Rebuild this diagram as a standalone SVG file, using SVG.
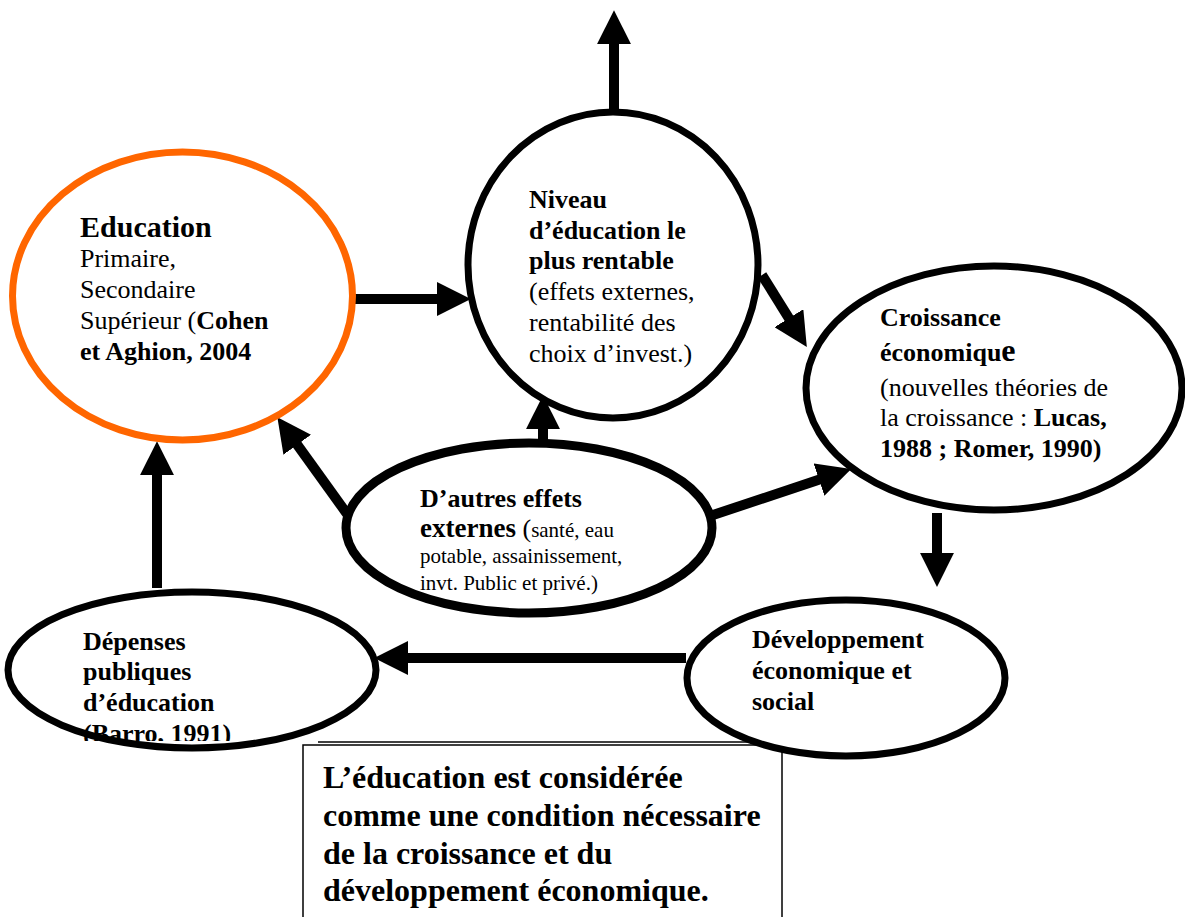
<svg xmlns="http://www.w3.org/2000/svg" width="1185" height="917" viewBox="0 0 1185 917">
<style>
  .node { fill: #fff; stroke: #000; stroke-width: 7; }
  .edu { fill: #fff; stroke: #FF6600; stroke-width: 7; }
  .thick { stroke-width: 9; }
  text { font-family: "Liberation Serif", "Times New Roman", serif; fill: #000; }
  .t { font-size: 26px; }
  .b { font-weight: bold; }
  .conn line { stroke: #000; stroke-width: 10; fill: none; marker-end: url(#ah); }
</style>
<defs>
  <marker id="ah" markerUnits="userSpaceOnUse" markerWidth="34" markerHeight="34" viewBox="0 0 32 32" refX="2" refY="16" orient="auto">
    <path d="M0,0 L32,16 L0,32 z" fill="#000"/>
  </marker>
  <clipPath id="clipDep"><rect x="0" y="580" width="400" height="161"/></clipPath>
</defs>
<rect width="1185" height="917" fill="#fff"/>

<g class="conn" id="connectors">
  <line x1="350" y1="299" x2="439" y2="299"/>
  <line x1="614" y1="113" x2="614" y2="42"/>
  <line x1="762" y1="275" x2="790" y2="320"/>
  <line x1="543" y1="444" x2="543" y2="427"/>
  <line x1="350" y1="518" x2="296" y2="443"/>
  <line x1="710" y1="516" x2="821" y2="479"/>
  <line x1="937" y1="513" x2="937" y2="555"/>
  <line x1="686" y1="658" x2="406" y2="658"/>
  <line x1="157" y1="588" x2="157" y2="473"/>
</g>

<g id="education">
  <ellipse class="edu" cx="182.5" cy="296" rx="170" ry="144"/>
  <text x="80" y="237" class="b" font-size="30">Education</text>
  <text class="t" x="80" y="267">Primaire,</text>
  <text class="t" x="80" y="298">Secondaire</text>
  <text class="t" x="80" y="329">Supérieur (<tspan class="b">Cohen</tspan></text>
  <text class="t b" x="80" y="360">et Aghion, 2004</text>
</g>

<g id="niveau">
  <ellipse class="node" cx="613" cy="265" rx="145" ry="153"/>
  <text class="t b" x="529" y="208">Niveau</text>
  <text class="t b" x="529" y="239">d’éducation le</text>
  <text class="t b" x="529" y="269">plus rentable</text>
  <text class="t" x="529" y="300">(effets externes,</text>
  <text class="t" x="529" y="331">rentabilité des</text>
  <text class="t" x="529" y="362">choix d’invest.)</text>
</g>

<g id="croissance">
  <ellipse class="node" cx="994" cy="388" rx="188" ry="122"/>
  <text class="t b" x="880" y="326">Croissance</text>
  <text class="t b" x="880" y="361">économiqu<tspan font-size="32">e</tspan></text>
  <text class="t" x="880" y="396">(nouvelles théories de</text>
  <text class="t" x="880" y="426">la croissance : <tspan class="b">Lucas,</tspan></text>
  <text class="t b" x="880" y="457">1988 ; Romer, 1990)</text>
</g>

<g id="autres">
  <ellipse class="node thick" cx="529" cy="528" rx="183" ry="85"/>
  <text class="t b" x="420" y="507" font-size="27">D’autres effets</text>
  <text x="420" y="537"><tspan class="b" font-size="27">externes</tspan><tspan font-size="26"> (</tspan><tspan font-size="21">santé, eau</tspan></text>
  <text x="420" y="563" font-size="21">potable, assainissement,</text>
  <text x="420" y="590" font-size="21">invt. Public et privé.)</text>
</g>

<g id="depenses">
  <ellipse class="node" cx="192" cy="670" rx="184" ry="78"/>
  <g clip-path="url(#clipDep)">
    <text class="t b" x="83" y="650">Dépenses</text>
    <text class="t b" x="83" y="680">publiques</text>
    <text class="t b" x="83" y="711">d’éducation</text>
    <text class="t b" x="83" y="742">(Barro, 1991)</text>
  </g>
</g>

<g id="conclusion">
  <rect x="303" y="745" width="479" height="190" fill="#fff" stroke="#000" stroke-width="1.5"/>
  <line x1="318" y1="742" x2="770" y2="742" stroke="#000" stroke-width="1.5"/>
  <text class="b" font-size="32" x="323" y="788">L’éducation est considérée</text>
  <text class="b" font-size="32" x="323" y="826">comme une condition nécessaire</text>
  <text class="b" font-size="32" x="323" y="864">de la croissance et du</text>
  <text class="b" font-size="32" x="323" y="901">développement économique.</text>
</g>

<g id="developpement">
  <ellipse class="node" cx="846" cy="678" rx="159" ry="78"/>
  <text class="t b" x="752" y="648">Développement</text>
  <text class="t b" x="752" y="679">économique et</text>
  <text class="t b" x="752" y="710">social</text>
</g>
</svg>
